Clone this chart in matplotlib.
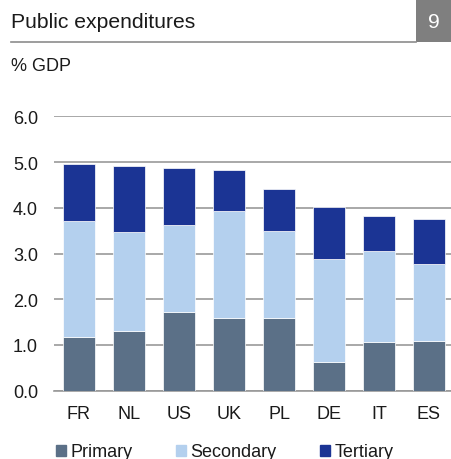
import numpy as np
import matplotlib
matplotlib.use('Agg')
import matplotlib.pyplot as plt
from matplotlib.patches import Rectangle, Patch
from matplotlib.lines import Line2D

plt.rcParams['font.family'] = ['Liberation Sans', 'DejaVu Sans']

countries = ['FR', 'NL', 'US', 'UK', 'PL', 'DE', 'IT', 'ES']
primary = [1.17, 1.31, 1.72, 1.58, 1.58, 0.63, 1.07, 1.09]
secondary = [2.55, 2.16, 1.91, 2.34, 1.91, 2.25, 1.99, 1.68]
tertiary = [1.23, 1.44, 1.24, 0.90, 0.92, 1.13, 0.76, 0.99]

c_prim = '#5b7087'
c_sec = '#b4d0ee'
c_ter = '#1b3494'
txt = '#1a1a1a'

W, H = 451, 460
fig = plt.figure(figsize=(W / 100, H / 100), dpi=100)

# header
fig.text(11 / W, 1 - 22 / H, 'Public expenditures', fontsize=15.2, color=txt,
         va='center', ha='left')
fig.add_artist(Line2D([11 / W, 416 / W], [1 - 43 / H, 1 - 43 / H],
                      color='#8c8c8c', lw=1.2))
fig.add_artist(Rectangle((416 / W, 1 - 43 / H), 35 / W, 43 / H,
                         facecolor='#7f7f7f', edgecolor='none'))
fig.text(433.5 / W, 1 - 22 / H, '9', fontsize=15.2, color='white',
         va='center', ha='center')
fig.text(11 / W, 1 - 67 / H, '% GDP', fontsize=13, color=txt,
         va='center', ha='left')

ax = fig.add_axes([54 / W, (H - 391.7) / H, 400 / W, (391.7 - 117.3) / H])
x = np.arange(len(countries))
p = np.array(primary)
s = np.array(secondary)
t = np.array(tertiary)
bw = 0.63
ax.bar(x, p, bw, color=c_prim, edgecolor='white', linewidth=0.5, zorder=3)
ax.bar(x, s, bw, bottom=p, color=c_sec, edgecolor='white', linewidth=0.5, zorder=3)
ax.bar(x, t, bw, bottom=p + s, color=c_ter, edgecolor='white', linewidth=0.5, zorder=3)

ax.set_xlim(-0.5, len(countries) - 0.5)
ax.set_ylim(0, 6)
ax.set_yticks(np.arange(0, 6.1, 1))
ax.set_yticklabels([f'{v:.1f}' for v in np.arange(0, 6.1, 1)])
ax.set_xticks(x)
ax.set_xticklabels(countries)
ax.yaxis.grid(True, color='#999999', linewidth=1.2, zorder=0)
ax.set_axisbelow(True)
for side in ['top', 'right', 'left']:
    ax.spines[side].set_visible(False)
ax.spines['bottom'].set_color('#999999')
ax.spines['bottom'].set_linewidth(1.2)
ax.tick_params(axis='both', length=0, labelsize=13, colors=txt)
ax.tick_params(axis='y', pad=11.5)
ax.tick_params(axis='x', pad=10.5)

handles = [Patch(color=c_prim), Patch(color=c_sec), Patch(color=c_ter)]
fig.legend(handles, ['Primary', 'Secondary', 'Tertiary'], ncol=3,
           loc='center left', bbox_to_anchor=(56 / W, 1 - 453 / H),
           frameon=False, fontsize=13, handlelength=0.55, handleheight=0.55,
           handletextpad=0.25, columnspacing=2.4, labelcolor=txt,
           borderpad=0, borderaxespad=0)

fig.savefig('out.png', dpi=100)
